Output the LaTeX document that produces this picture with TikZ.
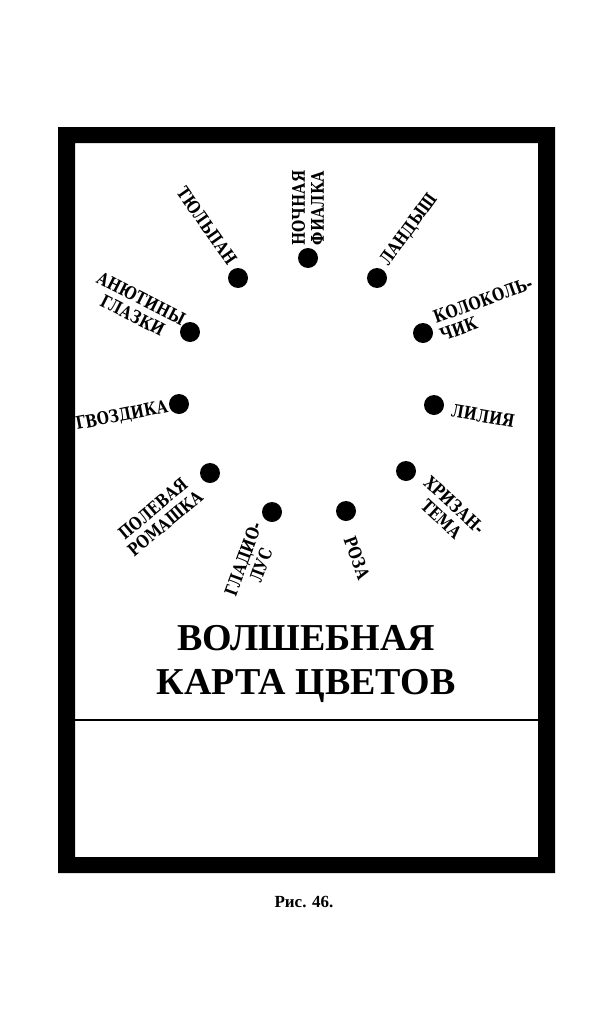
\documentclass[tikz,border=0pt]{standalone}
\usepackage{fontspec}
\setmainfont{Liberation Serif}
\newfontfamily\labfont{DejaVu Serif Bold}[FakeStretch=0.8]
\begin{document}
\begin{tikzpicture}[x=1pt,y=-1pt,
  dot/.style={circle,fill=black,inner sep=0pt,minimum size=20pt},
  lab/.style={font=\labfont\fontsize{17.5}{19}\selectfont,inner sep=0pt,align=center},
  labl/.style={lab,align=left},
  frameline/.style={line width=2pt}]
\useasboundingbox (0,0) rectangle (614,1033);
\fill[white] (0,0) rectangle (614,1033);
% frame
\fill[black,even odd rule] (58,127) rectangle (555,873) (75,143) rectangle (538,857);
\coordinate (dl) at (75,720);
\coordinate (dr) at (538,720);
\draw[frameline] (dl) -- (dr);
% dots
\node[dot] (tul) at (238,278) {};
\node[dot] (noch) at (308,258) {};
\node[dot] (land) at (377,278) {};
\node[dot] (kol) at (423,333) {};
\node[dot] (lil) at (434,405) {};
\node[dot] (hri) at (406,471) {};
\node[dot] (roz) at (346,511) {};
\node[dot] (gla) at (272,512) {};
\node[dot] (pol) at (210,473) {};
\node[dot] (gvo) at (179,404) {};
\node[dot] (anu) at (190,332) {};
% labels
\node[lab,rotate=-55] (tulL) at (207,226) {ТЮЛЬПАН};
\node[lab,rotate=90] (nochL) at (308,208) {НОЧНАЯ\\ФИАЛКА};
\node[lab,rotate=54] (landL) at (409,230) {ЛАНДЫШ};
\node[labl,rotate=20] (kolL) at (486,309) {КОЛОКОЛЬ-\\ЧИК};
\node[lab,rotate=-10] (lilL) at (483,416) {ЛИЛИЯ};
\node[lab,rotate=-43] (hriL) at (448,512) {ХРИЗАН-\\ТЕМА};
\node[lab,rotate=-70] (rozL) at (357,558) {РОЗА};
\node[lab,rotate=70] (glaL) at (252,562) {ГЛАДИО-\\ЛУС};
\node[lab,rotate=40] (polL) at (159,516) {ПОЛЕВАЯ\\РОМАШКА};
\node[lab,rotate=11] (gvoL) at (122,416) {ГВОЗДИКА};
\node[lab,rotate=-27] (anuL) at (137,307) {АНЮТИНЫ\\ГЛАЗКИ};
% title
\node[font=\bfseries\fontsize{38}{44}\selectfont,align=center,inner sep=0pt] (title) at (306,664) {ВОЛШЕБНАЯ\\КАРТА ЦВЕТОВ};
% caption
\node[font=\bfseries\fontsize{17}{20}\selectfont,inner sep=0pt] (cap) at (304,902) {Рис. 46.};
\end{tikzpicture}
\end{document}
